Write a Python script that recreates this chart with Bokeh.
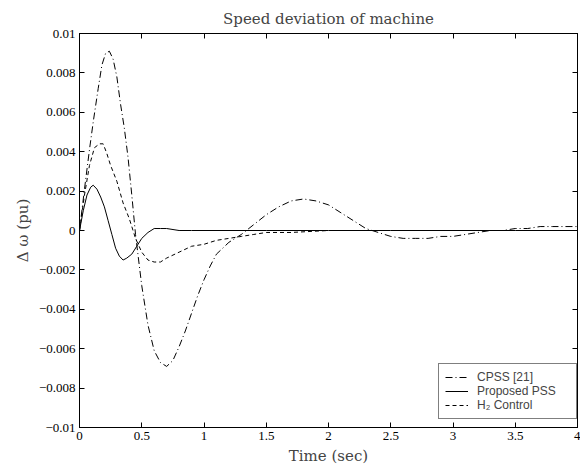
from bokeh.plotting import figure
from bokeh.models import Range1d, FixedTicker, LinearAxis, Legend, LegendItem
from bokeh.embed import file_html
from bokeh.resources import INLINE

# ---- data ----
t_cpss = [0, 0.04, 0.08, 0.11, 0.15, 0.18, 0.21, 0.24, 0.27, 0.3, 0.33, 0.36, 0.39, 0.42, 0.45,
          0.5, 0.55, 0.6, 0.65, 0.7, 0.75, 0.8, 0.85, 0.9, 0.95, 1.0, 1.05, 1.1, 1.2, 1.3, 1.4,
          1.5, 1.6, 1.7, 1.8, 1.9, 2.0, 2.1, 2.2, 2.3, 2.4, 2.5, 2.6, 2.7, 2.8, 2.9, 3.0, 3.1,
          3.2, 3.3, 3.4, 3.5, 3.6, 3.7, 3.8, 3.9, 4.0]
dw_cpss = [0, 0.0021, 0.0041, 0.0055, 0.0072, 0.0084, 0.0090, 0.0091, 0.0087, 0.0078, 0.0064,
           0.0052, 0.0037, 0.0018, -0.0002, -0.0028, -0.0048, -0.0061, -0.0067, -0.0069,
           -0.0066, -0.0059, -0.0051, -0.0042, -0.0033, -0.0025, -0.0018, -0.0012, -0.0006,
           -0.0002, 0.0003, 0.0008, 0.0012, 0.0015, 0.0016, 0.0015, 0.0013, 0.0009, 0.0005,
           0.0001, -0.0001, -0.0003, -0.0004, -0.0004, -0.0004, -0.0003, -0.0003, -0.0002,
           -0.0001, 0.0, 0.0, 0.0001, 0.0001, 0.0002, 0.0002, 0.0002, 0.0002]

t_pss = [0, 0.03, 0.06, 0.09, 0.11, 0.14, 0.17, 0.2, 0.23, 0.26, 0.29, 0.32, 0.35, 0.38, 0.42,
         0.46, 0.5, 0.55, 0.6, 0.65, 0.7, 0.8, 0.9, 1.0, 1.5, 2.0, 2.5, 3.0, 3.5, 4.0]
dw_pss = [0, 0.0010, 0.0018, 0.0022, 0.0023, 0.0021, 0.0017, 0.0012, 0.0005, -0.0002, -0.0009,
          -0.0013, -0.0015, -0.0014, -0.0012, -0.0008, -0.0004, -0.0001, 0.0001, 0.0001,
          0.0001, 0.0, 0.0, 0.0, 0.0, 0.0, 0.0, 0.0, 0.0, 0.0]

t_h2 = [0, 0.04, 0.08, 0.12, 0.16, 0.19, 0.22, 0.25, 0.3, 0.35, 0.4, 0.45, 0.5, 0.55, 0.6, 0.65,
        0.7, 0.8, 0.9, 1.0, 1.1, 1.2, 1.3, 1.4, 1.5, 1.7, 2.0, 2.5, 3.0, 3.5, 4.0]
dw_h2 = [0, 0.0018, 0.0033, 0.0042, 0.0044, 0.0044, 0.0039, 0.0033, 0.0025, 0.0014, 0.0006,
         -0.0004, -0.0011, -0.0015, -0.0016, -0.0016, -0.0014, -0.0011, -0.0008, -0.0007,
         -0.0005, -0.0004, -0.0003, -0.0002, -0.0001, -0.0001, 0.0, 0.0, 0.0, 0.0, 0.0]

x_ticks = [0, 0.5, 1, 1.5, 2, 2.5, 3, 3.5, 4]
x_tick_labels = ["0", "0.5", "1", "1.5", "2", "2.5", "3", "3.5", "4"]
y_ticks = [-0.01, -0.008, -0.006, -0.004, -0.002, 0, 0.002, 0.004, 0.006, 0.008, 0.01]
y_tick_labels = ["\u22120.01", "\u22120.008", "\u22120.006", "\u22120.004", "\u22120.002", "0",
                 "0.002", "0.004", "0.006", "0.008", "0.01"]

labels = ["CPSS [21]", "Proposed PSS", "H\u2082 Control"]

SERIF = "DejaVu Serif"
SANS = "Liberation Sans"
NARROW = "Liberation Sans Narrow"

p = figure(width=580, height=468, output_backend="svg", toolbar_location=None,
           x_range=Range1d(0, 4), y_range=Range1d(-0.01, 0.01),
           min_border_left=79, min_border_right=3, min_border_top=33, min_border_bottom=41,
           title="Speed deviation of machine")
p.title.text_font = SERIF
p.title.text_font_size = "15px"
p.title.text_font_style = "normal"
p.title.align = "center"
p.title.vertical_align = "top"
p.title.standoff = 8
p.title.offset = 0

p.xgrid.visible = False
p.ygrid.visible = False
p.outline_line_color = "black"
p.outline_line_width = 1
p.background_fill_color = "white"
p.border_fill_color = "white"

def style_axis(ax):
    ax.axis_line_color = "black"
    ax.major_tick_line_color = "black"
    ax.major_tick_in = 5
    ax.major_tick_out = 0
    ax.minor_tick_line_color = None
    ax.major_label_text_font = NARROW
    ax.major_label_text_font_size = "13px"
    ax.major_label_text_color = "black"
    ax.major_label_standoff = 4

xa = p.xaxis[0]
ya = p.yaxis[0]
xa.ticker = FixedTicker(ticks=x_ticks)
xa.major_label_overrides = dict(zip(x_ticks, x_tick_labels))
ya.ticker = FixedTicker(ticks=y_ticks)
ya.major_label_overrides = dict(zip(y_ticks, y_tick_labels))
style_axis(xa)
style_axis(ya)
xa.axis_label = "Time (sec)"
ya.axis_label = "\u0394 \u03c9 (pu)"
for ax in (xa, ya):
    ax.axis_label_text_font = SERIF
    ax.axis_label_text_font_size = "15px"
    ax.axis_label_text_font_style = "normal"
    ax.axis_label_standoff = 4

ra = LinearAxis(ticker=FixedTicker(ticks=y_ticks))
ta = LinearAxis(ticker=FixedTicker(ticks=x_ticks))
style_axis(ra)
style_axis(ta)
ra.major_label_overrides = {v: "" for v in y_ticks}
ta.major_label_overrides = {v: "" for v in x_ticks}
ra.major_label_standoff = 0
ta.major_label_standoff = 0
p.add_layout(ra, "right")
p.add_layout(ta, "above")

r1 = p.line(t_cpss, dw_cpss, line_color="black", line_width=1, line_dash="7 3 1 3")
r2 = p.line(t_pss, dw_pss, line_color="black", line_width=1)
r3 = p.line(t_h2, dw_h2, line_color="black", line_width=1, line_dash="4 3")

legend = Legend(items=[LegendItem(label=labels[0], renderers=[r1]),
                       LegendItem(label=labels[1], renderers=[r2]),
                       LegendItem(label=labels[2], renderers=[r3])],
                location=(359, 8))
legend.border_line_color = "black"
legend.border_line_width = 1
legend.background_fill_color = "white"
legend.background_fill_alpha = 1
legend.label_text_font = SANS
legend.label_text_font_size = "12px"
legend.glyph_width = 23
legend.glyph_height = 12
legend.label_height = 12
legend.label_width = 93
legend.label_standoff = 9
legend.spacing = 0
legend.padding = 6
legend.margin = 0
p.add_layout(legend, "center")

open("out.html", "w").write(file_html(p, INLINE))
